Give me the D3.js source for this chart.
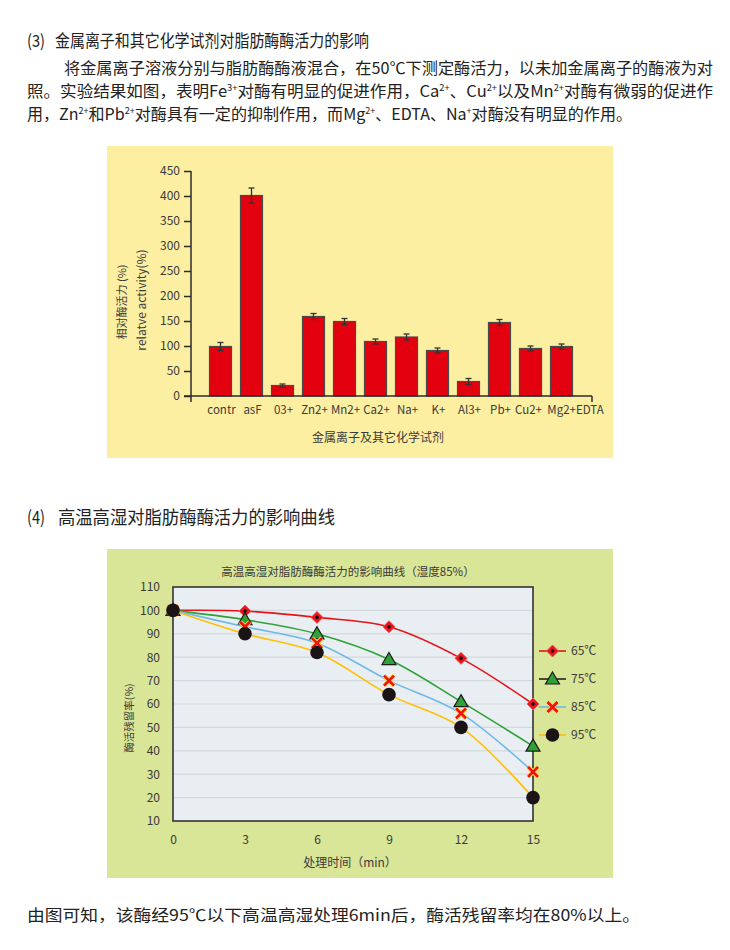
<!DOCTYPE html>
<html><head><meta charset="utf-8">
<script src="https://cdn.jsdelivr.net/npm/d3@7"></script>
<style>
html,body{margin:0;padding:0;background:#fff;}
svg{display:block;}
text{font-family:"Noto Sans CJK SC","Open Sans",sans-serif;}
</style></head>
<body>
<svg id="c" width="730" height="950"></svg>
<script>
// ---------- data ----------
const barCategories = ["contr","asF","03+","Zn2+","Mn2+","Ca2+","Na+","K+","Al3+","Pb+","Cu2+","Mg2+"];
const barTickLabels = ["contr","asF","03+","Zn2+","Mn2+","Ca2+","Na+","K+","Al3+","Pb+","Cu2+","Mg2+EDTA"];
const barValues = [99,401,21,159,149,109,118,91,29,147,95,99];
const barErrors = [8,15,3,6,6,5,6,5,6,6,5,5];
const barYTicks = [0,50,100,150,200,250,300,350,400,450];

const lineTimes = [0,3,6,9,12,15];
const lineYTicks = [10,20,30,40,50,60,70,80,90,100,110];
const seriesNames = ["65℃","75℃","85℃","95℃"];
const s65 = [100,99.7,97,93,79.5,60];
const s75 = [100,96,90,79,61,42];
const s85 = [100,93,86,70,56,31];
const s95 = [100,90,82,64,50,20];

const svg = d3.select("#c");
svg.append("rect").attr("width",730).attr("height",950).attr("fill","#fff");

// ---------- paragraph texts ----------
const txtColor = "#222";
svg.append("text").attr("x",27).attr("y",47).attr("font-size",17).attr("fill",txtColor)
  .attr("textLength",18).attr("lengthAdjust","spacingAndGlyphs").text("(3)");
svg.append("text").attr("x",55).attr("y",47).attr("font-size",17).attr("fill",txtColor)
  .attr("textLength",314).attr("lengthAdjust","spacingAndGlyphs")
  .text("金属离子和其它化学试剂对脂肪酶酶活力的影响");
svg.append("text").attr("x",64).attr("y",74).attr("font-size",16).attr("fill",txtColor)
  .attr("textLength",649).attr("lengthAdjust","spacingAndGlyphs")
  .text("将金属离子溶液分别与脂肪酶酶液混合，在50℃下测定酶活力，以未加金属离子的酶液为对");
{
  const t = svg.append("text").attr("x",27).attr("y",97).attr("font-size",16).attr("fill",txtColor);
  const parts = [["照。实验结果如图，表明Fe",""],["3+",1],["对酶有明显的促进作用，Ca",""],["2+",1],["、Cu",""],["2+",1],["以及Mn",""],["2+",1],["对酶有微弱的促进作",""]];
  parts.forEach(p=>{ if(p[1]) t.append("tspan").attr("font-size",9).attr("baseline-shift","6").text(p[0]); else t.append("tspan").text(p[0]); });
  t.attr("textLength",686).attr("lengthAdjust","spacingAndGlyphs");
}
{
  const t = svg.append("text").attr("x",27).attr("y",120).attr("font-size",16).attr("fill",txtColor);
  const parts = [["用，Zn",""],["2+",1],["和Pb",""],["2+",1],["对酶具有一定的抑制作用，而Mg",""],["2+",1],["、EDTA、Na",""],["+",1],["对酶没有明显的作用。",""]];
  parts.forEach(p=>{ if(p[1]) t.append("tspan").attr("font-size",9).attr("baseline-shift","6").text(p[0]); else t.append("tspan").text(p[0]); });
  t.attr("textLength",605).attr("lengthAdjust","spacingAndGlyphs");
}
svg.append("text").attr("x",27).attr("y",524).attr("font-size",18).attr("fill",txtColor)
  .attr("textLength",18).attr("lengthAdjust","spacingAndGlyphs").text("(4)");
svg.append("text").attr("x",58).attr("y",524).attr("font-size",18).attr("fill",txtColor)
  .attr("textLength",277).attr("lengthAdjust","spacingAndGlyphs")
  .text("高温高湿对脂肪酶酶活力的影响曲线");
svg.append("text").attr("x",27).attr("y",921).attr("font-size",16).attr("fill",txtColor)
  .attr("textLength",613).attr("lengthAdjust","spacingAndGlyphs")
  .text("由图可知，该酶经95℃以下高温高湿处理6min后，酶活残留率均在80%以上。");

// ---------- bar chart ----------
const axisCol = "#2b2b2b", labCol = "#3a3a3a";
svg.append("rect").attr("x",107).attr("y",146).attr("width",506).attr("height",312).attr("fill","#FCEFA2");
const bx = d3.scaleBand().domain(barCategories).range([205,577]).paddingInner(0.29).paddingOuter(0.145);
const by = d3.scaleLinear().domain([0,450]).range([396,171]);
const bg = svg.append("g");
bg.selectAll("rect.bar").data(barValues).join("rect")
  .attr("x",(d,i)=>bx(barCategories[i])).attr("width",bx.bandwidth())
  .attr("y",d=>by(d)).attr("height",d=>by(0)-by(d))
  .attr("fill","#E3000F").attr("stroke","#4a4a4a").attr("stroke-width",1.2);
const eg = bg.selectAll("g.err").data(barValues).join("g");
eg.append("line").attr("x1",(d,i)=>bx(barCategories[i])+bx.bandwidth()/2).attr("x2",(d,i)=>bx(barCategories[i])+bx.bandwidth()/2)
  .attr("y1",(d,i)=>by(d+barErrors[i])).attr("y2",(d,i)=>by(d-barErrors[i])).attr("stroke","#333").attr("stroke-width",1.3);
[1,-1].forEach(s=>{
  eg.append("line").attr("x1",(d,i)=>bx(barCategories[i])+bx.bandwidth()/2-3).attr("x2",(d,i)=>bx(barCategories[i])+bx.bandwidth()/2+3)
    .attr("y1",(d,i)=>by(d+s*barErrors[i])).attr("y2",(d,i)=>by(d+s*barErrors[i])).attr("stroke","#333").attr("stroke-width",1.3);
});
const yAx = d3.axisLeft(by).tickValues(barYTicks).tickSize(7).tickPadding(4);
const yg = bg.append("g").attr("transform","translate(191,0)").call(yAx);
yg.select(".domain").attr("stroke",axisCol).attr("stroke-width",1.5).attr("d","M0,171V396");
yg.selectAll(".tick line").attr("stroke",axisCol).attr("stroke-width",1.5);
yg.selectAll(".tick text").attr("fill",labCol).attr("font-size",12).attr("font-family","Open Sans, sans-serif");
bg.append("line").attr("x1",184).attr("x2",592).attr("y1",396).attr("y2",396).attr("stroke",axisCol).attr("stroke-width",1.5);
[191,592].forEach(x=>bg.append("line").attr("x1",x).attr("x2",x).attr("y1",396).attr("y2",402).attr("stroke",axisCol).attr("stroke-width",1.5));
bg.selectAll("text.xl").data(barTickLabels).join("text")
  .attr("x",(d,i)=>bx(barCategories[i])+bx.bandwidth()/2 + (i===barTickLabels.length-1?14:(i===barTickLabels.length-2?-2:1)))
  .attr("y",414).attr("text-anchor","middle").attr("font-size",11.5).attr("fill",labCol)
  .attr("font-family","Open Sans, sans-serif").text(d=>d);
bg.append("text").attr("transform","translate(126,302) rotate(-90)").attr("text-anchor","middle")
  .attr("font-size",11).attr("fill",labCol).text("相对酶活力 (%)");
bg.append("text").attr("transform","translate(146,300) rotate(-90)").attr("text-anchor","middle")
  .attr("font-size",12).attr("fill",labCol).attr("font-family","Open Sans, sans-serif").text("relatve activity(%)");
bg.append("text").attr("x",378).attr("y",442).attr("text-anchor","middle").attr("font-size",12).attr("fill",labCol).text("金属离子及其它化学试剂");

// ---------- line chart ----------
svg.append("rect").attr("x",107).attr("y",549).attr("width",506).attr("height",329).attr("fill","#D9E597");
const lx = d3.scaleLinear().domain([0,15]).range([173,533]);
const ly = d3.scaleLinear().domain([10,110]).range([821,587]);
const lg = svg.append("g");
lg.append("rect").attr("x",lx(0)).attr("y",ly(110)).attr("width",lx(15)-lx(0)).attr("height",ly(10)-ly(110)).attr("fill","#E9EEF2");
lg.selectAll("line.grid").data(lineYTicks.slice(1,-1)).join("line")
  .attr("x1",lx(0)).attr("x2",lx(15)).attr("y1",d=>ly(d)).attr("y2",d=>ly(d)).attr("stroke","#D3D9DE").attr("stroke-width",1.2);
lg.append("rect").attr("x",lx(0)).attr("y",ly(110)).attr("width",lx(15)-lx(0)).attr("height",ly(10)-ly(110))
  .attr("fill","none").attr("stroke","#333").attr("stroke-width",1.6);
const lyAx = d3.axisLeft(ly).tickValues(lineYTicks).tickSize(0).tickPadding(13);
const lyg = lg.append("g").attr("transform",`translate(${lx(0)},0)`).call(lyAx);
lyg.select(".domain").remove();
lyg.selectAll(".tick text").attr("fill",labCol).attr("font-size",12).attr("font-family","Open Sans, sans-serif");
const lxAx = d3.axisBottom(lx).tickValues(lineTimes).tickSize(0).tickPadding(14);
const lxg = lg.append("g").attr("transform",`translate(0,${ly(10)})`).call(lxAx);
lxg.select(".domain").remove();
lxg.selectAll(".tick text").attr("fill",labCol).attr("font-size",12).attr("font-family","Open Sans, sans-serif");
lg.append("text").attr("x",350).attr("y",867).attr("text-anchor","middle").attr("font-size",12).attr("fill",labCol).text("处理时间（min）");
lg.append("text").attr("transform","translate(133,718) rotate(-90)").attr("text-anchor","middle").attr("font-size",10.5).attr("fill",labCol).text("酶活残留率(%)");
lg.append("text").attr("x",348).attr("y",576).attr("text-anchor","middle").attr("font-size",11.5).attr("fill",labCol).text("高温高湿对脂肪酶酶活力的影响曲线（湿度85%）");

const series = [
  {name:seriesNames[0], vals:s65, color:"#E8131B", legendLine:"#E8131B", marker:"diamond"},
  {name:seriesNames[1], vals:s75, color:"#2EA236", legendLine:"#222", marker:"triangle"},
  {name:seriesNames[2], vals:s85, color:"#6DB9E6", legendLine:"#6DB9E6", marker:"x"},
  {name:seriesNames[3], vals:s95, color:"#FFC000", legendLine:"#FFC000", marker:"circle"}
];
function drawMarker(g, type, x, y){
  if(type==="diamond"){
    g.append("path").attr("d",`M${x},${y-6}L${x+6},${y}L${x},${y+6}L${x-6},${y}Z`).attr("fill","#E8131B").attr("stroke","#F05A5A").attr("stroke-width",1);
    g.append("circle").attr("cx",x).attr("cy",y).attr("r",1.8).attr("fill","#111");
  } else if(type==="triangle"){
    g.append("path").attr("d",`M${x},${y-7}L${x+7},${y+5}L${x-7},${y+5}Z`).attr("fill","#2EA236").attr("stroke","#1a1a1a").attr("stroke-width",1.2);
  } else if(type==="x"){
    const p = `M${x-5},${y-5}L${x+5},${y+5}M${x+5},${y-5}L${x-5},${y+5}`;
    g.append("path").attr("d",p).attr("stroke","#FFD34D").attr("stroke-width",4.5).attr("fill","none");
    g.append("path").attr("d",p).attr("stroke","#F01010").attr("stroke-width",2.6).attr("fill","none");
  } else {
    g.append("circle").attr("cx",x).attr("cy",y).attr("r",6.8).attr("fill","#1b1416");
  }
}
const line = d3.line().x((d,i)=>lx(lineTimes[i])).y(d=>ly(d)).curve(d3.curveCatmullRom.alpha(0.5));
series.forEach(s=>{
  const g = lg.append("g");
  g.append("path").attr("d",line(s.vals)).attr("fill","none").attr("stroke",s.color).attr("stroke-width",1.6);
  s.vals.forEach((v,i)=>drawMarker(g,s.marker,lx(lineTimes[i]),ly(v)));
});
const legY = d3.scaleBand().domain(seriesNames).range([637,749]);
series.forEach(s=>{
  const y = legY(s.name)+legY.bandwidth()/2;
  const g = lg.append("g");
  g.append("line").attr("x1",539).attr("x2",566).attr("y1",y).attr("y2",y).attr("stroke",s.legendLine).attr("stroke-width",1.6);
  drawMarker(g,s.marker,552.5,y);
  g.append("text").attr("x",571).attr("y",y+4).attr("font-size",12).attr("fill",labCol).attr("font-family","Open Sans, sans-serif").text(s.name);
});
</script>
</body></html>
